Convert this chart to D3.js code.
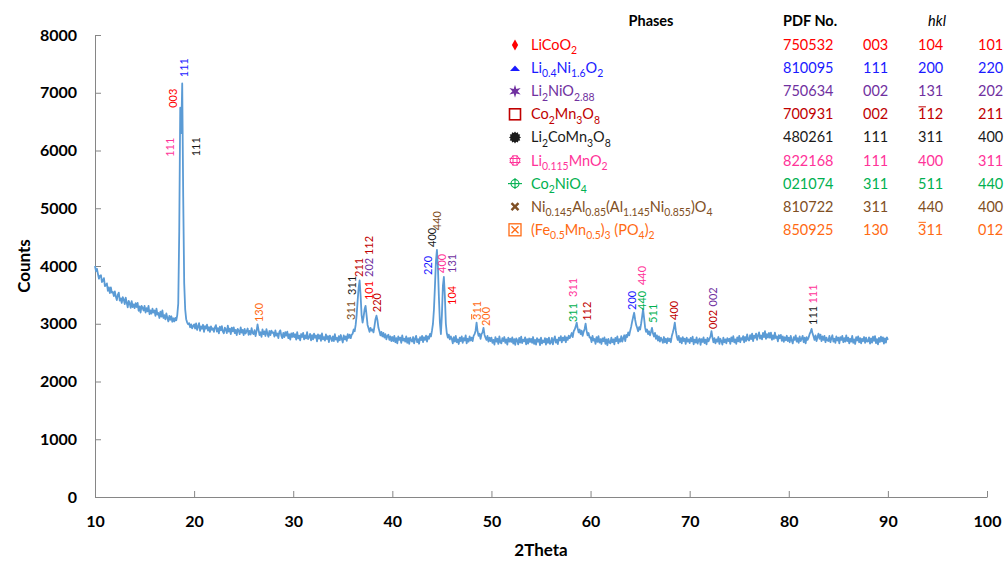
<!DOCTYPE html>
<html>
<head>
<meta charset="utf-8">
<script src="https://cdn.jsdelivr.net/npm/d3@7"></script>
<style>
  body { margin: 0; background: #fff; }
  svg { display: block; font-family: Lato, "Open Sans", sans-serif; }
</style>
</head>
<body>
<div id="container"></div>
<script>
// XRD scan, counts every 0.1 deg (rows start at the given 2theta)
const scanStep = 0.1;
const scanRows = [
  [10, [4000,3910,3950,3860,3780,3830,3840,3720,3750,3790,3650,3670,3700,3570,3630,3530,3630,3540,3550,3480]],
  [12, [3560,3470,3410,3500,3540,3400,3440,3360,3460,3420,3340,3450,3365,3285,3395,3355,3275,3390,3290,3335]],
  [14, [3270,3355,3290,3360,3225,3300,3195,3310,3275,3230,3310,3195,3270,3215,3310,3165,3230,3175,3260,3195]],
  [16, [3230,3135,3260,3160,3185,3100,3210,3125,3230,3100,3150,3075,3180,3100,3040,3135,3070,3130,3035,3095]],
  [18, [3040,3100,3060,3150,3350,4600,6740,6300,7160,5200,3700,3250,3080,3020,2990,3010,2940,2990,2920,2960]],
  [20, [2990,2918,3006,2894,2952,3010,2878,2956,2914,2982,2860,2958,2916,2984,2882,2940,2858,2956,2894,2922]],
  [22, [2860,2938,2976,2865,2923,2832,2950,2888,2957,2865,2834,2932,2900,2839,2967,2866,2914,2822,2931,2869]],
  [24, [2938,2837,2895,2804,2912,2881,2820,2938,2847,2895,2804,2912,2831,2870,2918,2807,2875,2814,2923,2841]],
  [26, [2820,2889,2788,2867,2990,2895,2804,2853,2772,2901,2820,2869,2788,2907,2826,2775,2874,2803,2882,2841]],
  [28, [2850,2778,2886,2794,2832,2750,2858,2886,2794,2752,2840,2768,2856,2794,2862,2750,2818,2726,2834,2772]],
  [30, [2840,2769,2818,2727,2856,2745,2794,2713,2822,2771,2840,2729,2798,2747,2856,2735,2764,2823,2712,2801]],
  [32, [2730,2829,2758,2797,2696,2815,2744,2803,2702,2831,2730,2769,2708,2817,2736,2785,2684,2793,2752,2701]],
  [34, [2780,2699,2818,2727,2756,2685,2785,2715,2805,2735,2676,2798,2730,2782,2705,2820,2755,2810,2750,2810]],
  [36, [2830,2900,2870,2980,3150,3400,3620,3750,3480,3150,3020,3120,3250,3310,3150,2980,2920,2860,2930,2880]],
  [38, [2900,2850,2960,3080,3140,3060,2930,2870,2800,2860,2780,2840,2760,2820,2730,2790,2810,2720,2780,2700]],
  [40, [2770,2700,2790,2680,2750,2660,2780,2720,2760,2670,2800,2710,2740,2690,2780,2670,2750,2650,2760,2710]],
  [42, [2690,2770,2660,2740,2790,2680,2732,2654,2766,2718,2790,2683,2766,2720,2795,2690,2780,2740,2825,2780]],
  [44, [2880,3000,3250,3650,4080,4280,3980,3450,3020,2820,3150,3650,3810,3480,3000,2830,2760,2810,2730,2780]],
  [46, [2740,2660,2770,2690,2790,2680,2730,2650,2760,2700,2780,2670,2750,2710,2800,2660,2740,2690,2780,2710]],
  [48, [2760,2700,2790,2820,2880,3020,2870,2790,2830,2740,2820,2850,2930,2810,2760,2720,2790,2690,2760,2700]],
  [50, [2760,2670,2720,2640,2770,2690,2740,2650,2780,2680,2660,2750,2700,2770,2670,2730,2640,2760,2690,2740]],
  [52, [2685,2765,2655,2735,2635,2745,2715,2645,2755,2675,2775,2665,2725,2695,2765,2645,2735,2655,2745,2685]],
  [54, [2740,2670,2770,2650,2720,2640,2750,2690,2730,2630,2760,2660,2710,2680,2750,2640,2740,2670,2760,2650]],
  [56, [2675,2755,2645,2728,2780,2672,2725,2648,2760,2712,2785,2678,2760,2713,2786,2680,2765,2720,2795,2750]],
  [58, [2790,2840,2770,2870,2900,2950,3020,2920,2850,2900,2820,2880,2790,2860,2910,3000,2880,2800,2840,2760]],
  [60, [2765,2683,2790,2708,2735,2652,2770,2688,2786,2674,2732,2650,2748,2697,2764,2652,2730,2628,2736,2675]],
  [62, [2660,2760,2680,2730,2642,2755,2698,2780,2662,2735,2690,2785,2690,2750,2800,2700,2805,2770,2850,2800]],
  [64, [2880,2950,3040,3120,3190,3070,2980,2930,2870,2940,2900,3000,3120,3255,3100,2940,2860,2900,2820,2870]],
  [66, [2800,2860,2930,2830,2780,2840,2740,2800,2710,2780,2690,2760,2720,2670,2770,2680,2740,2660,2750,2700]],
  [68, [2740,2680,2790,2850,2920,3020,2880,2780,2720,2790,2680,2750,2660,2770,2700,2740,2650,2760,2690,2730]],
  [70, [2665,2755,2695,2775,2645,2725,2675,2765,2655,2715,2745,2635,2735,2685,2765,2665,2725,2645,2755,2695]],
  [72, [2740,2780,2870,2760,2680,2750,2660,2730,2690,2770,2650,2740,2700,2640,2760,2680,2730,2660,2750,2700]],
  [74, [2740,2652,2763,2695,2786,2678,2730,2652,2764,2696,2788,2680,2752,2724,2786,2678,2770,2702,2814,2726]],
  [76, [2710,2802,2735,2828,2700,2793,2756,2830,2723,2796,2850,2743,2796,2729,2840,2770,2870,2740,2820,2760]],
  [78, [2840,2758,2845,2723,2800,2737,2844,2751,2778,2695,2802,2749,2806,2703,2780,2688,2766,2714,2792,2700]],
  [80, [2760,2680,2790,2710,2660,2770,2720,2800,2690,2750,2670,2780,2700,2740,2790,2680,2760,2660,2770,2720]],
  [82, [2760,2820,2860,2910,2830,2780,2720,2800,2700,2770,2830,2740,2810,2700,2780,2720,2790,2680,2760,2710]],
  [84, [2700,2790,2680,2750,2800,2690,2740,2670,2780,2710,2760,2660,2770,2720,2790,2680,2750,2690,2800,2700]],
  [86, [2760,2660,2740,2690,2790,2670,2730,2650,2770,2710,2780,2680,2750,2660,2740,2700,2770,2670,2760,2690]],
  [88, [2695,2765,2655,2745,2675,2775,2705,2785,2665,2735,2645,2755,2685,2775,2695,2765,2655,2745,2675,2765]],
  [90, [2720]]
];

const xTicks = [10, 20, 30, 40, 50, 60, 70, 80, 90, 100];
const yTicks = [0, 1000, 2000, 3000, 4000, 5000, 6000, 7000, 8000];

// legend table ("_{..}" = subscript, "-" before a digit = bar over it)
const phaseNames = [
  "LiCoO_{2}",
  "Li_{0.4}Ni_{1.6}O_{2}",
  "Li_{2}NiO_{2.88}",
  "Co_{2}Mn_{3}O_{8}",
  "Li_{2}CoMn_{3}O_{8}",
  "Li_{0.115}MnO_{2}",
  "Co_{2}NiO_{4}",
  "Ni_{0.145}Al_{0.85}(Al_{1.145}Ni_{0.855})O_{4}",
  "(Fe_{0.5}Mn_{0.5})_{3} (PO_{4})_{2}"
];
const pdfNumbers = ["750532", "810095", "750634", "700931", "480261", "822168", "021074", "810722", "850925"];
const phaseHkl = [
  ["003", "104", "101"],
  ["111", "200", "220"],
  ["002", "131", "202"],
  ["002", "-112", "211"],
  ["111", "311", "400"],
  ["111", "400", "311"],
  ["311", "511", "440"],
  ["311", "440", "400"],
  ["130", "-311", "012"]
];
const phaseColors = ["#ff0000", "#1a1aff", "#7030a0", "#c00000", "#1a1a1a", "#ff3399", "#00b050", "#7f4f24", "#ff6a13"];

// peak annotations: label foot at (theta, counts), phase index
const peakLabels = [
  { theta: 18.88, counts: 7270, text: "111", phase: 1 },
  { theta: 17.77, counts: 6740, text: "003", phase: 0 },
  { theta: 17.47, counts: 5890, text: "111", phase: 5 },
  { theta: 20.19, counts: 5900, text: "111", phase: 4 },
  { theta: 26.45, counts: 3030, text: "130", phase: 8 },
  { theta: 35.73, counts: 3065, text: "311", phase: 7 },
  { theta: 35.83, counts: 3500, text: "311", phase: 4 },
  { theta: 36.54, counts: 3810, text: "211", phase: 3 },
  { theta: 37.55, counts: 3810, text: "202", phase: 2 },
  { theta: 37.55, counts: 4190, text: "112", phase: 3 },
  { theta: 37.55, counts: 3410, text: "101", phase: 0 },
  { theta: 38.45, counts: 3200, text: "220", phase: 3 },
  { theta: 43.50, counts: 3845, text: "220", phase: 1 },
  { theta: 44.00, counts: 4330, text: "400", phase: 4 },
  { theta: 44.50, counts: 4620, text: "440", phase: 7 },
  { theta: 45.00, counts: 3880, text: "400", phase: 5 },
  { theta: 46.02, counts: 3880, text: "131", phase: 2 },
  { theta: 45.92, counts: 3325, text: "104", phase: 0 },
  { theta: 48.54, counts: 3065, text: "-311", phase: 8 },
  { theta: 49.35, counts: 2960, text: "200", phase: 8 },
  { theta: 58.22, counts: 3465, text: "311", phase: 5 },
  { theta: 58.22, counts: 3030, text: "311", phase: 6 },
  { theta: 59.64, counts: 3050, text: "112", phase: 3 },
  { theta: 64.18, counts: 3240, text: "200", phase: 1 },
  { theta: 65.19, counts: 3670, text: "440", phase: 5 },
  { theta: 65.19, counts: 3240, text: "440", phase: 6 },
  { theta: 66.30, counts: 3015, text: "511", phase: 6 },
  { theta: 68.32, counts: 3065, text: "400", phase: 3 },
  { theta: 72.26, counts: 2910, text: "002", phase: 3 },
  { theta: 72.26, counts: 3300, text: "002", phase: 2 },
  { theta: 82.35, counts: 2980, text: "111", phase: 4 },
  { theta: 82.35, counts: 3350, text: "111", phase: 5 }
];

const W = 1005, H = 561;
const axisColor = "#868686";

const svg = d3.select("#container").append("svg")
  .attr("width", W)
  .attr("height", H);

const x = d3.scaleLinear().domain([10, 100]).range([95, 987]);
const y = d3.scaleLinear().domain([0, 8000]).range([497, 35]);

// flatten scan
const scan = [];
scanRows.forEach(([start, vals]) => {
  vals.forEach((v, j) => scan.push({ t: start + j * scanStep, c: v }));
});

// axes
const xAxis = svg.append("g")
  .attr("transform", `translate(0,${y(0)})`)
  .call(d3.axisBottom(x).tickValues(xTicks).tickFormat(d3.format("d"))
    .tickSizeInner(-6).tickSizeOuter(0).tickPadding(19));
const yAxis = svg.append("g")
  .attr("transform", `translate(${x(10)},0)`)
  .call(d3.axisLeft(y).tickValues(yTicks).tickFormat(d3.format("d"))
    .tickSizeInner(-6).tickSizeOuter(0).tickPadding(18));

[xAxis, yAxis].forEach(a => {
  a.select(".domain").attr("stroke", axisColor);
  a.selectAll(".tick line").attr("stroke", axisColor);
  a.selectAll(".tick text")
    .attr("fill", "#000")
    .style("font-family", "Lato, sans-serif")
    .style("font-size", "16px")
    .style("font-weight", "bold");
});

svg.append("text")
  .attr("transform", `translate(23,${(y(0) + y(8000)) / 2}) rotate(-90)`)
  .attr("text-anchor", "middle")
  .attr("dominant-baseline", "central")
  .style("font-size", "17px")
  .style("font-weight", "bold")
  .text("Counts");

svg.append("text")
  .attr("x", (x(10) + x(100)) / 2)
  .attr("y", 556)
  .attr("text-anchor", "middle")
  .style("font-size", "17px")
  .style("font-weight", "bold")
  .text("2Theta");

// trace
svg.append("path")
  .datum(scan)
  .attr("fill", "none")
  .attr("stroke", "#5b9bd5")
  .attr("stroke-width", 1.8)
  .attr("stroke-linejoin", "round")
  .attr("d", d3.line().x(d => x(d.t)).y(d => y(d.c)));

// text with an overbar on a digit ("-311"); attrs are applied before measuring
function barText(parent, str, attrs, color) {
  const barIdx = str.indexOf("-");
  const t = parent.append("text").text(str.replace("-", ""));
  Object.entries(attrs).forEach(([k, v]) => t.attr(k, v));
  if (barIdx >= 0) {
    const ext = t.node().getExtentOfChar(barIdx);
    const by = ext.y + ext.height * 0.09;
    parent.append("line")
      .attr("x1", ext.x + 0.5).attr("x2", ext.x + ext.width - 0.5)
      .attr("y1", by).attr("y2", by)
      .attr("stroke", color)
      .attr("stroke-width", 1);
  }
  return t;
}

// peak labels
peakLabels.forEach(p => {
  const g = svg.append("g")
    .attr("transform", `translate(${x(p.theta)},${y(p.counts)}) rotate(-90)`)
    .attr("fill", phaseColors[p.phase])
    .style("font-size", "11px");
  barText(g, p.text, { "dominant-baseline": "central" }, phaseColors[p.phase]);
});

// subscript markup
function richText(sel, str, size) {
  const parts = str.split(/(_\{[^}]*\})/).filter(s => s.length);
  let shifted = false;
  parts.forEach(p => {
    if (p.startsWith("_{")) {
      sel.append("tspan")
        .attr("dy", shifted ? 0 : size * 0.3)
        .style("font-size", (size * 0.72) + "px")
        .text(p.slice(2, -1));
      shifted = true;
    } else {
      sel.append("tspan")
        .attr("dy", shifted ? -size * 0.3 : 0)
        .text(p);
      shifted = false;
    }
  });
}

function drawMarker(g, i, color) {
  const star = (n, r1, r2) => {
    const pts = d3.range(n * 2).map(k => {
      const a = k * Math.PI / n - Math.PI / 2;
      const r = k % 2 ? r2 : r1;
      return [r * Math.cos(a), r * Math.sin(a)];
    });
    return "M" + pts.join("L") + "Z";
  };
  switch (i) {
    case 0:
      g.append("path").attr("d", d3.symbol(d3.symbolDiamond, 34)()).attr("fill", color);
      break;
    case 1:
      g.append("path").attr("d", "M-5,3L0,-2.5L5,3Z").attr("fill", color);
      break;
    case 2:
      g.append("path").attr("d", star(6, 6.5, 2.6)).attr("fill", color);
      break;
    case 3:
      g.append("rect").attr("x", -5.5).attr("y", -5.5).attr("width", 11).attr("height", 11)
        .attr("fill", "none").attr("stroke", color).attr("stroke-width", 1.6);
      break;
    case 4:
      g.append("path").attr("d", star(12, 6, 4.6)).attr("fill", color);
      break;
    case 5:
      g.append("circle").attr("r", 4.8).attr("fill", "none").attr("stroke", color).attr("stroke-width", 1);
      [-2, 2].forEach(o => {
        g.append("line").attr("x1", o).attr("x2", o).attr("y1", -5.5).attr("y2", 5.5).attr("stroke", color);
        g.append("line").attr("y1", o).attr("y2", o).attr("x1", -5.5).attr("x2", 5.5).attr("stroke", color);
      });
      break;
    case 6:
      g.append("circle").attr("r", 4).attr("fill", "none").attr("stroke", color).attr("stroke-width", 1.1);
      g.append("line").attr("x1", -7).attr("x2", 7).attr("stroke", color).attr("stroke-width", 1.1);
      g.append("line").attr("y1", -5.5).attr("y2", 5.5).attr("stroke", color).attr("stroke-width", 1.1);
      break;
    case 7:
      g.append("path").attr("d", "M-3.5,-3.5L3.5,3.5M3.5,-3.5L-3.5,3.5")
        .attr("stroke", color).attr("stroke-width", 2.4);
      break;
    case 8:
      g.append("rect").attr("x", -6).attr("y", -6).attr("width", 12).attr("height", 12)
        .attr("fill", "none").attr("stroke", color).attr("stroke-width", 1.3);
      g.append("path").attr("d", "M-3.5,-3.5L3.5,3.5M3.5,-3.5L-3.5,3.5")
        .attr("stroke", color).attr("stroke-width", 1.3);
      break;
  }
}

// legend table
const legend = svg.append("g").style("font-size", "14.5px");
const headerY = 26;
legend.append("text").attr("x", 651).attr("y", headerY).attr("text-anchor", "middle")
  .style("font-weight", "bold").text("Phases");
legend.append("text").attr("x", 783).attr("y", headerY)
  .style("font-weight", "bold").text("PDF No.");
legend.append("text").attr("x", 937).attr("y", headerY).attr("text-anchor", "middle")
  .style("font-style", "italic").text("hkl");

const rowY = i => 45 + i * 23.1;
const hklCols = [863, 918, 978];

phaseNames.forEach((name, i) => {
  const color = phaseColors[i];
  const cy = rowY(i);
  drawMarker(legend.append("g").attr("transform", `translate(515,${cy})`), i, color);

  const t = legend.append("text").attr("x", 531).attr("y", cy + 5).attr("fill", color);
  richText(t, name, 14.5);

  legend.append("text").attr("x", 783).attr("y", cy + 5).attr("fill", color).text(pdfNumbers[i]);

  phaseHkl[i].forEach((h, k) => {
    const g = legend.append("g").attr("fill", color);
    barText(g, h, { x: hklCols[k], y: cy + 5 }, color);
  });
});
</script>
</body>
</html>
